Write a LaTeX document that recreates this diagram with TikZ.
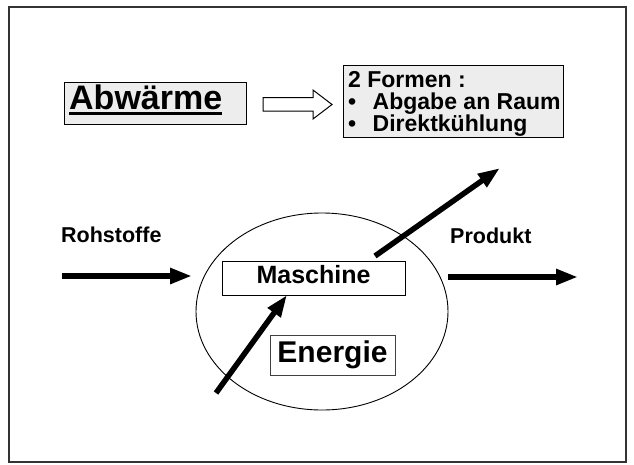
\documentclass[tikz,border=0pt]{standalone}
\usepackage{fontspec}
\setmainfont{Liberation Sans}
\usetikzlibrary{arrows.meta}
\begin{document}
\begin{tikzpicture}[x=1pt,y=-1pt,
  flow/.style={line width=5.5pt,-{Triangle[length=22pt,width=15pt]}},
  greybox/.style={draw,fill=black!7,line width=1.1pt,inner sep=0pt,anchor=north west},
  whitebox/.style={draw,fill=white,line width=1pt,inner sep=0pt},
  lbl/.style={inner sep=0pt,anchor=base west,font=\fontsize{21.5}{24}\selectfont\bfseries},
  formtxt/.style={inner sep=0pt,anchor=base west,font=\fontsize{23}{25}\selectfont\bfseries}]
\useasboundingbox (0,0) rectangle (634,464);

% outer frame
\draw[line width=1.3pt,black!80] (9,7) rectangle (626,462);

% waste heat box
\node[greybox,minimum width=182pt,minimum height=42pt] (abwbox) at (64,82) {};
\node[inner sep=0pt,anchor=base west,font=\fontsize{34}{37}\selectfont\bfseries] (abw) at (69,109.5) {Abwärme};
\draw[line width=2.5pt] ([yshift=-4pt]abw.base west) -- ([yshift=-4pt]abw.base east);

% hollow block arrow
\draw[line width=1pt,fill=white] (263,97.5) -- (313,97.5) -- (313,90) -- (332,104.5)
  -- (313,119) -- (313,111) -- (263,111) -- cycle;

% two forms box
\node[greybox,minimum width=220pt,minimum height=72pt] (formbox) at (343,65) {};
\node[formtxt] (f1) at (348,87) {2 Formen :};
\node[formtxt] (f2) at (348,109) {•\hspace{16.5pt}Abgabe an Raum};
\node[formtxt] (f3) at (348,131) {•\hspace{16.5pt}Direktkühlung};

% system boundary
\draw[line width=0.9pt] (322,311.5) ellipse [x radius=126pt,y radius=98.5pt];

% machine and energy boxes
\node[whitebox,minimum width=183pt,minimum height=34pt] (maschbox) at (313.5,278) {};
\node[inner sep=0pt,anchor=base,font=\fontsize{25}{28}\selectfont\bfseries] (masch) at (313.5,283) {Maschine};
\node[whitebox,draw=black!75,line width=0.9pt,minimum width=125pt,minimum height=40pt] (enbox) at (332.5,355) {};
\node[inner sep=0pt,anchor=base,font=\fontsize{30}{33}\selectfont\bfseries] (en) at (332.5,362) {Energie};

% flow labels
\node[lbl] (roh) at (61,242) {Rohstoffe};
\node[lbl] (prod) at (450,243) {Produkt};

% flows
\coordinate (rin) at (62,276);
\coordinate (rout) at (192,276);
\coordinate (pin) at (448,277);
\coordinate (pout) at (578,277);
\coordinate (hin) at (375,256);
\coordinate (hout) at (500,168);
\coordinate (ein) at (216,393);
\coordinate (eout) at (287,295);
\draw[flow] (rin) -- (rout);
\draw[flow] (pin) -- (pout);
\draw[flow] (hin) -- (hout);
\draw[flow] (ein) -- (eout);
\end{tikzpicture}
\end{document}
